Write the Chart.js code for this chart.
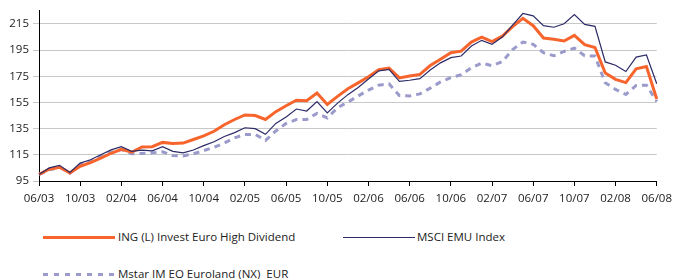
<!DOCTYPE html>
<html>
<head>
<meta charset="utf-8">
<script src="https://cdn.jsdelivr.net/npm/chart.js@4/dist/chart.umd.min.js"></script>
<style>
  html, body { margin: 0; padding: 0; background: #fff; }
  body { width: 678px; height: 279px; position: relative; overflow: hidden; font-family: 'Open Sans', sans-serif; color: #222; }
  #wrap { position: absolute; left: 0; top: 0; width: 678px; height: 210px; }
  .item { position: absolute; font-size: 11.5px; line-height: 14px; white-space: pre; }
  .swatch { position: absolute; width: 72px; }
</style>
</head>
<body>
<div id="wrap"><canvas id="chart"></canvas></div>

<div class="swatch" style="left:43px; top:235.5px; height:3px; background:#f7652d;"></div>
<div class="item" style="left:118px; top:230px;">ING (L) Invest Euro High Dividend</div>

<div class="swatch" style="left:343px; top:236.5px; height:1px; background:#2c2b68;"></div>
<div class="item" style="left:417px; top:230px;">MSCI EMU Index</div>

<div class="swatch" style="left:43px; top:272.5px; height:3px; background:repeating-linear-gradient(to right, #9b9bcb 0 5px, transparent 5px 11px);"></div>
<div class="item" style="left:118px; top:267px;">Mstar IM EO Euroland (NX)  EUR</div>

<script>
const months = [
  '06/03','07/03','08/03','09/03','10/03','11/03','12/03','01/04','02/04','03/04','04/04','05/04',
  '06/04','07/04','08/04','09/04','10/04','11/04','12/04','01/05','02/05','03/05','04/05','05/05',
  '06/05','07/05','08/05','09/05','10/05','11/05','12/05','01/06','02/06','03/06','04/06','05/06',
  '06/06','07/06','08/06','09/06','10/06','11/06','12/06','01/07','02/07','03/07','04/07','05/07',
  '06/07','07/07','08/07','09/07','10/07','11/07','12/07','01/08','02/08','03/08','04/08','05/08',
  '06/08'
];

const ingFund = [
  100, 104, 105.5, 101.2, 106.3, 109, 112.5, 116.2, 119.2, 117, 121, 121.2,
  124.5, 123.7, 124, 126.7, 129.5, 133, 138, 142, 145.5, 145, 142, 148,
  152.5, 156.7, 156.3, 162.2, 153.5, 159.7, 165.5, 170, 174.7, 180, 181.2, 173.8,
  175.2, 176.5, 183.2, 188, 193, 194.2, 201.2, 205, 201.5, 205.7, 213, 219.3,
  213.7, 204.3, 203.3, 202, 206.3, 199.2, 197, 177.5, 172.7, 170.2, 180.7, 182.5,
  157.7
];

const msciEmu = [
  100, 105, 107, 101.5, 108.7, 111.2, 115, 118.8, 121.2, 117.7, 118.6, 118,
  121.3, 117.7, 116.5, 118.7, 122, 125, 129, 132, 135.7, 135, 130.7, 139,
  144, 150, 148.5, 155.7, 147, 154.5, 161, 166.5, 173, 179.2, 180.3, 171.2,
  172, 173.2, 179.8, 185.3, 189.3, 190.5, 198.2, 202.5, 199.5, 205, 214.2, 223,
  221.2, 213.7, 212.5, 215.2, 222.2, 214.7, 213.2, 186, 183.5, 178.7, 189.7, 191.3,
  169.3
];

const peerGroup = [
  100, 103.5, 105.5, 101, 107.5, 110, 113.7, 117, 119, 115.8, 116, 116.5,
  117.3, 114.5, 114.2, 115.8, 118.2, 120.8, 124, 128, 130.5, 130.7, 126, 133.2,
  139, 142, 142, 146.7, 143.2, 151, 155.3, 160, 164.5, 168.2, 169.3, 160.3,
  160, 161.6, 166, 170.7, 174, 176.2, 181.5, 185, 183.2, 186.2, 195.5, 201.2,
  199.5, 193, 190.7, 194, 196.6, 190.7, 190.5, 170, 165, 161.2, 168, 168.2,
  155.7
];

const yTicks = [95, 115, 135, 155, 175, 195, 215];

const tickFont = { family: "'Open Sans', sans-serif", size: 11.5 };

new Chart(document.getElementById('chart'), {
  type: 'line',
  data: {
    labels: months,
    datasets: [
      { label: 'MSCI EMU Index', data: msciEmu, borderColor: '#2c2b68', borderWidth: 1.2, pointRadius: 0, tension: 0, order: 0 },
      { label: 'ING (L) Invest Euro High Dividend', data: ingFund, borderColor: '#f7652d', borderWidth: 3, pointRadius: 0, tension: 0, order: 1 },
      { label: 'Mstar IM EO Euroland (NX)  EUR', data: peerGroup, borderColor: '#9b9bcb', borderWidth: 3, borderDash: [6, 5], pointRadius: 0, tension: 0, order: 2 }
    ]
  },
  options: {
    responsive: true,
    maintainAspectRatio: false,
    animation: false,
    layout: { padding: { left: 0, right: 16.5, top: 8, bottom: 0 } },
    plugins: { legend: { display: false }, tooltip: { enabled: false } },
    scales: {
      x: {
        offset: false,
        grid: { display: true, drawOnChartArea: false, drawTicks: true, tickLength: 5, color: '#000' },
        border: { display: true, color: '#000', width: 1 },
        ticks: {
          autoSkip: false, maxRotation: 0, minRotation: 0, padding: 6,
          color: '#222', font: tickFont,
          callback: (v, i) => (i % 4 === 0 ? months[i] : null)
        },
        afterFit: (scale) => { scale.height = 29; }
      },
      y: {
        min: 95,
        max: 225,
        grid: { color: '#c8c8c8', lineWidth: 1, tickLength: 6 },
        border: { display: true, color: '#000', width: 1 },
        ticks: { padding: 4, color: '#222', font: tickFont },
        afterBuildTicks: (scale) => { scale.ticks = yTicks.map((v) => ({ value: v })); },
        afterFit: (scale) => { scale.width = 39; }
      }
    }
  }
});
</script>
</body>
</html>
